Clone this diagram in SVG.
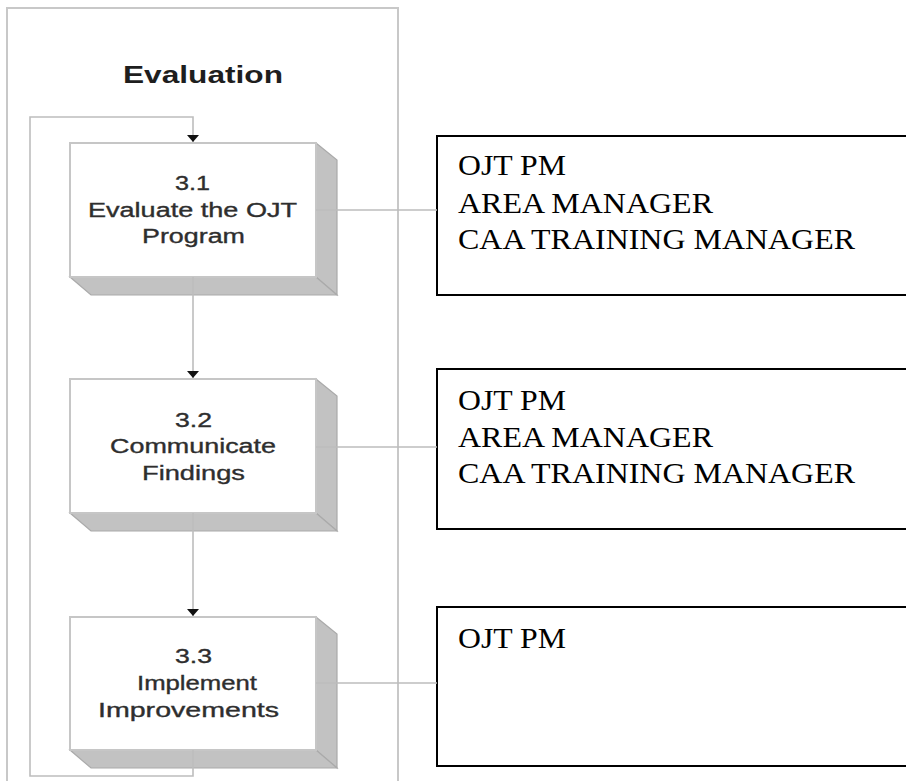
<svg xmlns="http://www.w3.org/2000/svg" width="906" height="781" viewBox="0 0 906 781">
<defs>
<style>
.frame{fill:none;stroke:#c8c8c8;stroke-width:2}
.front{fill:#ffffff;stroke:#c6c6c6;stroke-width:2}
.side{fill:#c2c2c2;stroke:#aaaaaa;stroke-width:1.2}
.conn{fill:none;stroke:#bdbdbd;stroke-width:1.6}
.lbl{font-family:"Liberation Sans",Arial,sans-serif;font-size:20px;fill:#2e2e2e;stroke:#2e2e2e;stroke-width:0.35}
.title{font-family:"Liberation Sans",Arial,sans-serif;font-size:24px;font-weight:bold;fill:#1e1e1e}
.role{fill:#ffffff;stroke:#000000;stroke-width:2}
.rtxt{font-family:"Liberation Serif","Times New Roman",serif;font-size:30px;fill:#000000}
</style>
<marker id="arr" markerWidth="7" markerHeight="12" refX="7" refY="6" orient="auto" markerUnits="userSpaceOnUse" viewBox="0 0 7 12">
<path d="M0,0 L7,6 L0,12 Z" fill="#111111"/>
</marker>
</defs>
<rect width="906" height="781" fill="#ffffff"/>
<path class="frame" d="M7,781 V8 H398 V781"/>
<text class="title" x="123" y="83" textLength="160" lengthAdjust="spacingAndGlyphs">Evaluation</text>

<g id="node-3-1">
<polygon class="side" points="316,143 337,160 337,295 316,277"/>
<polygon class="side" points="70,277 316,277 337,295 91,295"/>
<rect class="front" x="70" y="143" width="246" height="134"/>
<text class="lbl" x="175" y="190" textLength="35" lengthAdjust="spacingAndGlyphs">3.1</text>
<text class="lbl" x="88" y="217" textLength="209" lengthAdjust="spacingAndGlyphs">Evaluate the OJT</text>
<text class="lbl" x="142" y="243" textLength="103" lengthAdjust="spacingAndGlyphs">Program</text>
</g>

<g id="node-3-2">
<polygon class="side" points="316,379 337,396 337,531 316,513"/>
<polygon class="side" points="70,513 316,513 337,531 91,531"/>
<rect class="front" x="70" y="379" width="246" height="134"/>
<text class="lbl" x="175" y="427" textLength="37" lengthAdjust="spacingAndGlyphs">3.2</text>
<text class="lbl" x="110" y="453" textLength="166" lengthAdjust="spacingAndGlyphs">Communicate</text>
<text class="lbl" x="142" y="480" textLength="103" lengthAdjust="spacingAndGlyphs">Findings</text>
</g>

<g id="node-3-3">
<polygon class="side" points="316,617 337,634 337,768 316,750"/>
<polygon class="side" points="70,750 316,750 337,768 91,768"/>
<rect class="front" x="70" y="617" width="246" height="133"/>
<text class="lbl" x="175" y="663" textLength="37" lengthAdjust="spacingAndGlyphs">3.3</text>
<text class="lbl" x="137" y="690" textLength="120" lengthAdjust="spacingAndGlyphs">Implement</text>
<text class="lbl" x="98" y="717" textLength="181" lengthAdjust="spacingAndGlyphs">Improvements</text>
</g>

<g id="role-1">
<rect class="role" x="437" y="136" width="475" height="159"/>
<text class="rtxt" x="458" y="175" textLength="108" lengthAdjust="spacingAndGlyphs">OJT PM</text>
<text class="rtxt" x="458" y="213" textLength="255" lengthAdjust="spacingAndGlyphs">AREA MANAGER</text>
<text class="rtxt" x="458" y="249" textLength="397" lengthAdjust="spacingAndGlyphs">CAA TRAINING MANAGER</text>
</g>

<g id="role-2">
<rect class="role" x="437" y="369" width="475" height="160"/>
<text class="rtxt" x="458" y="410" textLength="108" lengthAdjust="spacingAndGlyphs">OJT PM</text>
<text class="rtxt" x="458" y="447" textLength="255" lengthAdjust="spacingAndGlyphs">AREA MANAGER</text>
<text class="rtxt" x="458" y="483" textLength="397" lengthAdjust="spacingAndGlyphs">CAA TRAINING MANAGER</text>
</g>

<g id="role-3">
<rect class="role" x="437" y="607" width="475" height="159"/>
<text class="rtxt" x="458" y="648" textLength="108" lengthAdjust="spacingAndGlyphs">OJT PM</text>
</g>

<g id="connectors">
<path class="conn" d="M193,277 V378" marker-end="url(#arr)"/>
<path class="conn" d="M193,513 V616" marker-end="url(#arr)"/>
<path class="conn" d="M193,750 V776 H30 V117 H193 V142" marker-end="url(#arr)"/>
<path class="conn" d="M316,210 H437"/>
<path class="conn" d="M316,447 H437"/>
<path class="conn" d="M316,683 H437"/>
</g>
</svg>
